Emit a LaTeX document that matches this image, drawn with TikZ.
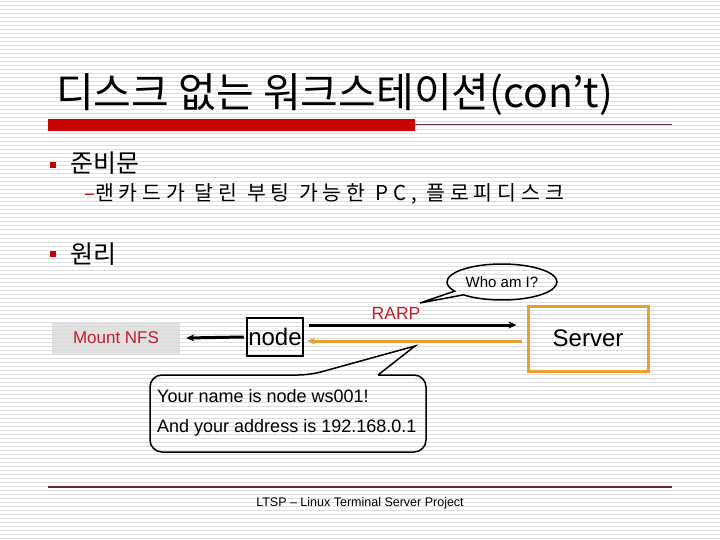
\documentclass[tikz,border=0pt]{standalone}
\usepackage{fontspec}
\setmainfont{Liberation Sans}
\newfontfamily\kr{Noto Sans CJK KR}
\newfontfamily\krs{Noto Sans CJK KR}[LetterSpace=24]
\usetikzlibrary{arrows.meta,shapes.callouts,shapes.geometric}
\definecolor{stripe}{RGB}{222,222,222}
\definecolor{barred}{RGB}{200,0,0}
\definecolor{linered}{RGB}{110,40,50}
\definecolor{txtred}{RGB}{190,30,45}
\definecolor{srvorange}{RGB}{232,160,48}
\definecolor{nfsgray}{RGB}{220,220,220}
\tikzset{
  fs/.style={font=\fontsize{#1}{#1}\selectfont},
  bulletsq/.style={fill=barred, minimum size=6pt, inner sep=0pt},
  boxnode/.style={draw, line width=2.5pt, inner sep=0pt},
  arr/.style={-{Stealth[length=8pt,width=7pt]}, line width=3pt},
}
\begin{document}
\begin{tikzpicture}[x=1pt,y=-1pt]
\useasboundingbox (0,0) rectangle (720,540);
\fill[white] (0,0) rectangle (720,540);
\foreach \yy in {2,6,...,538} \draw[stripe, line width=1pt] (0,\yy) -- (720,\yy);
% title
\node[anchor=base west, inner sep=0pt] (title) at (56,108) {\kr\fontsize{41}{48}\selectfont 디스크 없는 워크스테이션(con’t)};
\fill[barred] (48,119) rectangle (415,131);
\draw[linered, line width=1pt] (415,124.5) -- (672,124.5);
% bullets
\node[bulletsq] (b1) at (53,165.5) {};
\node[anchor=base west, inner sep=0pt] (t1) at (70,173) {\kr\fontsize{25}{30}\selectfont 준비문};
\node[anchor=base west, inner sep=0pt] (t2) at (84,201) {\krs\fontsize{20.5}{25}\selectfont \textcolor{barred}{–}랜카드가 달린 부팅 가능한 PC, 플로피디스크};
\node[bulletsq] (b2) at (53,253.5) {};
\node[anchor=base west, inner sep=0pt] (t3) at (70,263) {\kr\fontsize{25}{30}\selectfont 원리};
% diagram
\node[boxnode, minimum width=56pt, minimum height=38pt, fs=24] (nd) at (275,337) {node};
\node[draw=srvorange, line width=3pt, minimum width=120pt, minimum height=65pt, fs=24] (srv) at (588,338.5) {Server};
\node[fill=nfsgray, fill opacity=0.85, text opacity=1, text=txtred, minimum width=128pt, minimum height=32pt, fs=17] (nfs) at (116,338) {Mount NFS};
\node[text=txtred, fs=17.5] (rarp) at (396,313) {RARP};
\draw[arr] ([xshift=5pt,yshift=12pt]nd.east) -- ([xshift=-10pt,yshift=13.5pt]srv.west);
\draw[arr, srvorange] ([xshift=-5pt,yshift=-2.5pt]srv.west) -- ([xshift=3pt,yshift=-4pt]nd.east);
\draw[arr] ([xshift=-2pt]nd.west) -- ([xshift=6pt]nfs.east);
% who am I
\node[ellipse callout, draw, line width=1.5pt, minimum width=110pt, minimum height=36pt, inner sep=0pt,
  callout absolute pointer={(420,303)}, fs=15] (who) at (502,282) {Who am I?};
% message callout
\node[anchor=base west, inner sep=0pt, fs=18] (m1) at (157,402) {Your name is node ws001!};
\node[anchor=base west, inner sep=0pt, fs=18] (m2) at (157,432) {And your address is 192.168.0.1};
\coordinate (apex) at (415,346);
\draw[line width=1.5pt, rounded corners=12pt] (378,375) -- (426,375) -- (426,452) -- (150,452) -- (150,375) -- (310,375) [sharp corners] -- (apex) -- (378,375);
% footer
\draw[linered, line width=1.5pt] (48,487) -- (672,487);
\node[fs=12.5] (foot) at (360,503) {LTSP – Linux Terminal Server Project};
\end{tikzpicture}
\end{document}
